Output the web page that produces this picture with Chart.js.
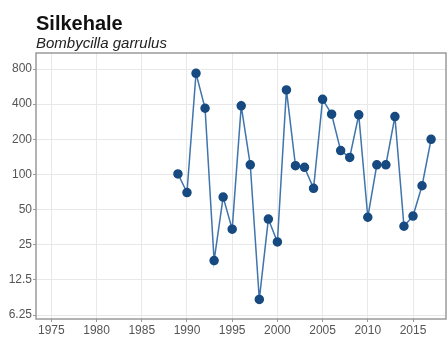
<!DOCTYPE html>
<html>
<head>
<meta charset="utf-8">
<script src="https://cdn.jsdelivr.net/npm/chart.js@4"></script>
<style>
  body { margin: 0; background: #fff; }
  #wrap { position: relative; width: 447px; height: 343px; }
  #title { position: absolute; left: 36px; top: 12px; font: bold 20px "Liberation Sans", Arial, sans-serif; color: #111; }
  #subtitle { position: absolute; left: 36px; top: 34px; font: italic 15px "Liberation Sans", Arial, sans-serif; color: #222; }
  canvas { position: absolute; left: 0; top: 0; }
</style>
</head>
<body>
<div id="wrap">
  <canvas id="chart" width="447" height="343"></canvas>
  <div id="title">Silkehale</div>
  <div id="subtitle">Bombycilla garrulus</div>
</div>
<script>
// Data
const years = [1989, 1990, 1991, 1992, 1993, 1994, 1995, 1996, 1997, 1998,
  1999, 2000, 2001, 2002, 2003, 2004, 2005, 2006, 2007, 2008,
  2009, 2010, 2011, 2012, 2013, 2014, 2015, 2016, 2017];
const counts = [101, 70, 735, 369, 18.3, 64, 34, 387, 121, 8.5,
  41.5, 26.4, 530, 119, 115, 76, 440, 328, 160, 140,
  324, 43, 121, 121, 313, 36, 44, 80, 200];
const yTicks = [6.25, 12.5, 25, 50, 100, 200, 400, 800];
const xTicks = [1975, 1980, 1985, 1990, 1995, 2000, 2005, 2010, 2015];

// Frame around plot area
const frame = {
  id: 'frame',
  afterDraw(chart) {
    const a = chart.chartArea, c = chart.ctx;
    c.save();
    c.strokeStyle = '#9a9a9a';
    c.lineWidth = 1.5;
    c.strokeRect(a.left, a.top, a.right - a.left, a.bottom - a.top);
    c.restore();
  }
};

const tickFont = { family: '"Liberation Sans", Arial, sans-serif', size: 12 };

new Chart(document.getElementById('chart'), {
  type: 'line',
  data: {
    datasets: [{
      data: years.map((y, i) => ({ x: y, y: counts[i] })),
      borderColor: '#3f74ad',
      borderWidth: 1.5,
      pointBackgroundColor: '#174a80',
      pointBorderColor: '#174a80',
      pointRadius: 4,
      tension: 0
    }]
  },
  options: {
    responsive: false,
    animation: false,
    layout: { autoPadding: false, padding: { top: 53, right: 1, left: 0, bottom: 0 } },
    plugins: { legend: { display: false }, tooltip: { enabled: false } },
    scales: {
      x: {
        type: 'linear',
        min: 1973.3,
        max: 2018.65,
        afterBuildTicks: s => { s.ticks = xTicks.map(v => ({ value: v })); },
        afterFit: s => { s.height = 24; s.paddingLeft = 0; s.paddingRight = 0; },
        grid: { color: '#e8e8e8', tickColor: '#999', tickLength: 3 },
        border: { display: false },
        ticks: { color: '#555', font: tickFont, padding: 1, maxRotation: 0, callback: v => String(v) }
      },
      y: {
        type: 'logarithmic',
        min: 5.78,
        max: 1097,
        afterBuildTicks: s => { s.ticks = yTicks.map(v => ({ value: v })); },
        afterFit: s => { s.width = 36; s.paddingTop = 0; s.paddingBottom = 0; },
        grid: { color: '#e8e8e8', tickColor: '#999', tickLength: 3 },
        border: { display: false },
        ticks: { color: '#555', font: tickFont, padding: 1, callback: v => String(v) }
      }
    }
  },
  plugins: [frame]
});
</script>
</body>
</html>
